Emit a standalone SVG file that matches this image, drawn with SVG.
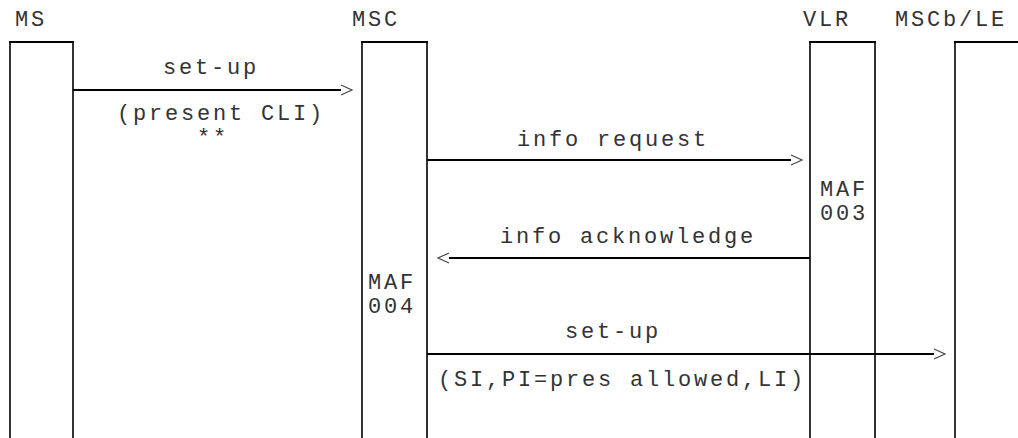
<svg xmlns="http://www.w3.org/2000/svg" width="1018" height="438" viewBox="0 0 1018 438">
<style>
.t{font-family:"Liberation Mono","Courier New",monospace;font-size:22px;fill:#333;letter-spacing:2.8px}
.box{fill:none;stroke:#000;stroke-width:1.6}
.top{stroke:#000;stroke-width:2.2}
.msg{stroke:#000;stroke-width:2;fill:none}
.head{stroke:#444;stroke-width:1.2;fill:none}
</style>
<rect width="1018" height="438" fill="#fff"/>
<g id="MS">
<text class="t" x="15" y="26">MS</text>
<path class="box" d="M10,438 V42 M73,42 V438"/>
<path class="top" d="M9,42 H74"/>
</g>
<g id="MSC">
<text class="t" x="352" y="26">MSC</text>
<path class="box" d="M362,438 V42 M427,42 V438"/>
<path class="top" d="M361,42 H428"/>
<text class="t" x="368" y="289">MAF</text>
<text class="t" x="368" y="313">004</text>
</g>
<g id="VLR">
<text class="t" x="803" y="26">VLR</text>
<path class="box" d="M810,438 V42 M875,42 V438"/>
<path class="top" d="M809,42 H876"/>
<text class="t" x="820" y="196">MAF</text>
<text class="t" x="820" y="220">003</text>
</g>
<g id="MSCb_LE">
<text class="t" x="895" y="26">MSCb/LE</text>
<path class="box" d="M955,438 V42"/>
<path class="top" d="M954,42 H1018"/>
</g>
<g id="connectors">
<path class="msg" d="M73,90 H341"/>
<path class="head" d="M341,85 L352,90 L341,95"/>
<text class="t" x="163" y="74">set-up</text>
<text class="t" x="117" y="120">(present CLI)</text>
<text class="t" x="197" y="144">**</text>
<path class="msg" d="M427,160 H791"/>
<path class="head" d="M791,155 L802,160 L791,165"/>
<text class="t" x="517" y="146">info request</text>
<path class="msg" d="M810,258 H449"/>
<path class="head" d="M449,253 L438,258 L449,263"/>
<text class="t" x="500" y="243">info acknowledge</text>
<path class="msg" d="M427,354 H934"/>
<path class="head" d="M934,349 L945,354 L934,359"/>
<text class="t" x="565" y="338">set-up</text>
<text class="t" x="438" y="386">(SI,PI=pres allowed,LI)</text>
</g>
</svg>
